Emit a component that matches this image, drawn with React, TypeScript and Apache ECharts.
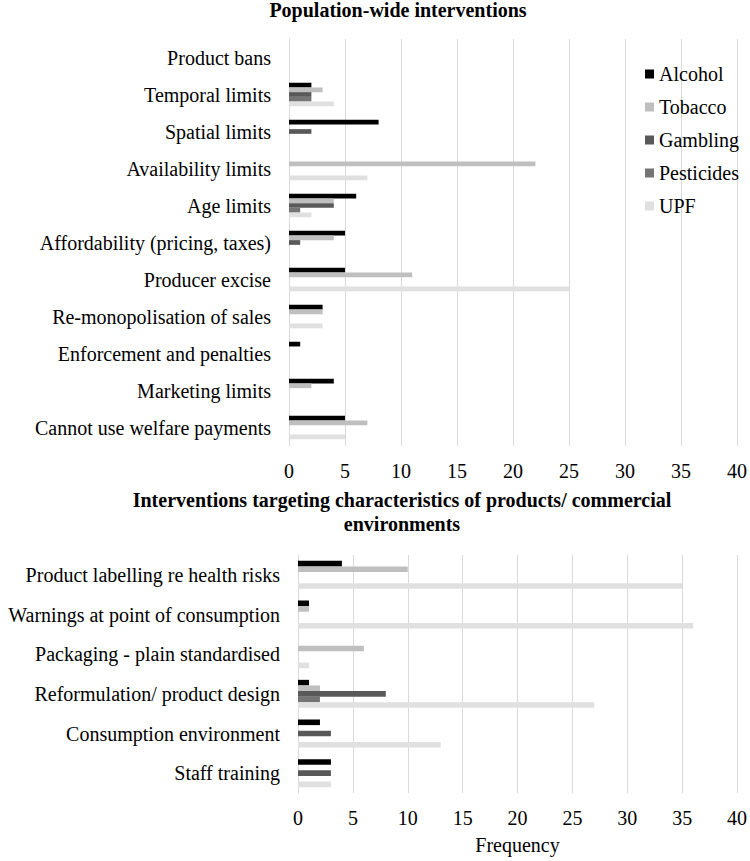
import React, { useEffect, useRef } from "react";
import * as echarts from "echarts";

const seriesNames = ["Alcohol", "Tobacco", "Gambling", "Pesticides", "UPF"];
const seriesColors = ["#000000", "#bfbfbf", "#595959", "#747474", "#e0e0e0"];

const popCategories = [
  "Product bans",
  "Temporal limits",
  "Spatial limits",
  "Availability limits",
  "Age limits",
  "Affordability (pricing, taxes)",
  "Producer excise",
  "Re-monopolisation of sales",
  "Enforcement and penalties",
  "Marketing limits",
  "Cannot use welfare payments",
];
const popAlcohol = [0, 2, 8, 0, 6, 5, 5, 3, 1, 4, 5];
const popTobacco = [0, 3, 0, 22, 4, 4, 11, 3, 0, 2, 7];
const popGambling = [0, 2, 2, 0, 4, 1, 0, 0, 0, 0, 0];
const popPesticides = [0, 2, 0, 0, 1, 0, 0, 0, 0, 0, 0];
const popUPF = [0, 4, 0, 7, 2, 0, 25, 3, 0, 0, 5];

const prodCategories = [
  "Product labelling re health risks",
  "Warnings at point of consumption",
  "Packaging - plain standardised",
  "Reformulation/ product design",
  "Consumption environment",
  "Staff training",
];
const prodAlcohol = [4, 1, 0, 1, 2, 3];
const prodTobacco = [10, 1, 6, 2, 0, 0];
const prodGambling = [0, 0, 0, 8, 3, 3];
const prodPesticides = [0, 0, 0, 2, 0, 0];
const prodUPF = [35, 36, 1, 27, 13, 3];

const titleTop = "Population-wide interventions";
const titleBottom = "Interventions targeting characteristics of products/ commercial\nenvironments";
const xAxisName = "Frequency";

const FONT = "'Liberation Serif', 'Times New Roman', serif";

export default function App() {
  const ref = useRef<HTMLDivElement>(null);

  useEffect(() => {
    if (!ref.current) return;
    const chart = echarts.init(ref.current, null, { renderer: "svg" });

    const popData = [popAlcohol, popTobacco, popGambling, popPesticides, popUPF];
    const prodData = [prodAlcohol, prodTobacco, prodGambling, prodPesticides, prodUPF];

    const series: any[] = [];
    seriesNames.forEach((name, i) => {
      series.push({
        name,
        type: "bar",
        xAxisIndex: 0,
        yAxisIndex: 0,
        data: popData[i],
        barWidth: 4.7,
        barGap: "0%",
        itemStyle: { color: seriesColors[i] },
      });
    });
    seriesNames.forEach((name, i) => {
      series.push({
        name,
        type: "bar",
        xAxisIndex: 1,
        yAxisIndex: 1,
        data: prodData[i],
        barWidth: 5.6,
        barGap: "0%",
        itemStyle: { color: seriesColors[i] },
      });
    });

    const labelStyle = { fontSize: 20, fontFamily: FONT, fontWeight: "normal", color: "#000" };

    const valueAxis = (gridIndex: number, extra: any = {}) => ({
      type: "value",
      gridIndex,
      min: 0,
      max: 40,
      interval: 5,
      axisLine: { show: false },
      axisTick: { show: false },
      splitLine: { show: true, lineStyle: { color: "#d9d9d9", width: 1 } },
      axisLabel: { ...labelStyle, margin: 15 },
      ...extra,
    });

    const catAxis = (gridIndex: number, data: string[]) => ({
      type: "category",
      gridIndex,
      data,
      inverse: true,
      axisLine: { show: true, lineStyle: { color: "#d9d9d9", width: 1 } },
      axisTick: { show: false },
      axisLabel: { ...labelStyle, margin: 18 },
    });

    chart.setOption({
      animation: false,
      backgroundColor: "#ffffff",
      textStyle: { fontFamily: FONT },
      title: [
        {
          text: titleTop,
          left: 398,
          textAlign: "center",
          top: -2,
          padding: 0,
          textStyle: { fontSize: 20, fontWeight: "bold", fontFamily: FONT, color: "#000", lineHeight: 24 },
        },
        {
          text: titleBottom,
          left: 402,
          textAlign: "center",
          top: 488,
          padding: 0,
          textStyle: { fontSize: 20, fontWeight: "bold", fontFamily: FONT, color: "#000", lineHeight: 24 },
        },
      ],
      legend: {
        data: seriesNames,
        orient: "vertical",
        left: 645,
        top: 64,
        padding: 0,
        itemWidth: 9,
        itemHeight: 9,
        itemGap: 13,
        icon: "rect",
        textStyle: { ...labelStyle, lineHeight: 20 },
      },
      grid: [
        { left: 289, right: 13, top: 39, height: 407 },
        { left: 298, right: 12, top: 555, height: 238 },
      ],
      xAxis: [
        valueAxis(0),
        valueAxis(1, {
          name: xAxisName,
          nameLocation: "middle",
          nameGap: 42,
          nameTextStyle: { ...labelStyle },
        }),
      ],
      yAxis: [catAxis(0, popCategories), catAxis(1, prodCategories)],
      series,
    });

    return () => chart.dispose();
  }, []);

  return (
    <div
      ref={ref}
      style={{ position: "fixed", left: 0, top: 0, width: 750, height: 861, background: "#fff" }}
    />
  );
}
